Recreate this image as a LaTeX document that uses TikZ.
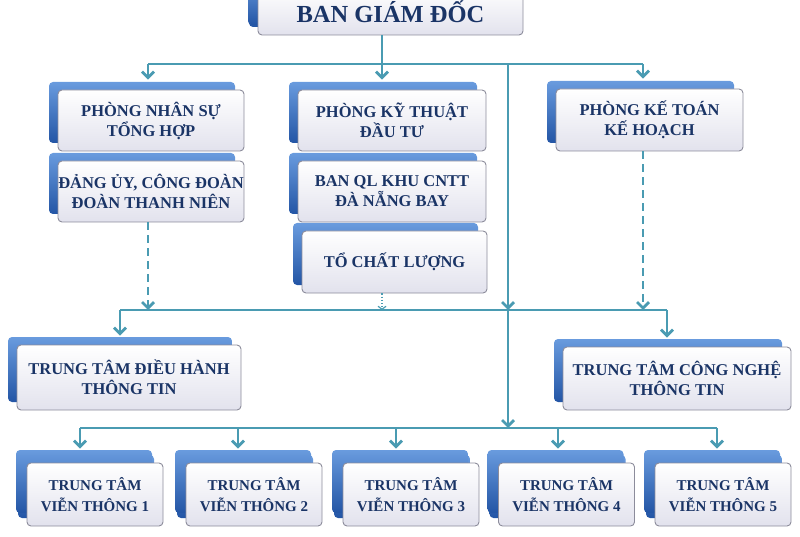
\documentclass[tikz,border=0pt]{standalone}
\usepackage{fontspec}
\setmainfont{Liberation Serif}
\usetikzlibrary{shadows,arrows.meta,calc}
\definecolor{ln}{RGB}{74,155,178}
\definecolor{txt}{RGB}{26,52,102}
\definecolor{bt}{RGB}{105,155,222}
\definecolor{bb}{RGB}{35,85,165}
\definecolor{fb}{RGB}{226,226,237}
\definecolor{bd}{RGB}{140,140,155}
\begin{document}
\begin{tikzpicture}[x=1pt,y=-1pt,
  card/.style={draw=bd, line width=0.9pt, rounded corners=4pt, top color=white, bottom color=fb,
    text=txt, align=center, inner sep=0pt, font=\bfseries\fontsize{16.5}{20}\selectfont,
    general shadow={shadow xshift=-9pt, shadow yshift=8pt, top color=bt, bottom color=bb}},
  lowcard/.style={card, font=\bfseries\fontsize{15}{21}\selectfont,
    general shadow={shadow xshift=-11pt, shadow yshift=13pt, top color=bt, bottom color=bb},
    minimum width=136pt, minimum height=63pt},
  wire/.style={draw=ln, line width=2.8pt},
  arr/.style={wire, -{Straight Barb[length=6pt,width=12pt]}},
  dasharr/.style={arr, dash pattern=on 8pt off 5pt},
  dotarr/.style={draw=ln, line width=1.2pt, dotted, -{Straight Barb[length=3pt,width=8pt]}}
]
\useasboundingbox (0,0) rectangle (800,537);

% boxes
\node[card, font=\bfseries\fontsize{24.5}{28}\selectfont, minimum width=265pt, minimum height=47pt,
  general shadow={shadow xshift=-10pt, shadow yshift=10pt, top color=bt, bottom color=bb}]
  (bgd) at (390.5,11.5) {BAN GIÁM ĐỐC};

\node[card, minimum width=186pt, minimum height=61pt] (pns) at (151,120.5) {PHÒNG NHÂN SỰ\\TỔNG HỢP};
\node[card, minimum width=186pt, minimum height=61pt] (dang) at (151,191.5) {ĐẢNG ỦY, CÔNG ĐOÀN\\ĐOÀN THANH NIÊN};

\node[card, minimum width=188pt, minimum height=61pt] (pkt) at (392,120.5) {PHÒNG KỸ THUẬT\\ĐẦU TƯ};
\node[card, minimum width=188pt, minimum height=61pt] (bql) at (392,191.5) {BAN QL KHU CNTT\\ĐÀ NẴNG BAY};
\node[card, minimum width=185pt, minimum height=62pt] (tcl) at (394.5,262) {TỔ CHẤT LƯỢNG};

\node[card, minimum width=187pt, minimum height=62pt] (ktk) at (649.5,120) {PHÒNG KẾ TOÁN\\KẾ HOẠCH};

\node[card, minimum width=224pt, minimum height=65pt] (dh) at (129,377.5) {TRUNG TÂM ĐIỀU HÀNH\\THÔNG TIN};
\node[card, minimum width=228pt, minimum height=63pt] (cn) at (677,378.5) {TRUNG TÂM CÔNG NGHỆ\\THÔNG TIN};

\node[lowcard] (vt1) at (95,494.5) {TRUNG TÂM\\VIỄN THÔNG 1};
\node[lowcard] (vt2) at (254,494.5) {TRUNG TÂM\\VIỄN THÔNG 2};
\node[lowcard] (vt3) at (411,494.5) {TRUNG TÂM\\VIỄN THÔNG 3};
\node[lowcard] (vt4) at (566.5,494.5) {TRUNG TÂM\\VIỄN THÔNG 4};
\node[lowcard] (vt5) at (723,494.5) {TRUNG TÂM\\VIỄN THÔNG 5};

% junction coordinates
\coordinate (jt) at (382,64);
\coordinate (tl) at (148,64);
\coordinate (tr) at (643,64);
\coordinate (jm) at (508,64);
\coordinate (mm) at (508,310);
\coordinate (ml) at (120,310);
\coordinate (mr) at (667,310);
\coordinate (mb) at (508,428);
\coordinate (b1) at (80,428);
\coordinate (b2) at (238,428);
\coordinate (b3) at (396,428);
\coordinate (b4) at (558,428);
\coordinate (b5) at (717,428);

% top level
\draw[wire] (bgd.south -| jt) -- (jt);
\draw[wire] (tl) -- (tr);
\draw[arr] (tl) -- ($(tl |- pns.north)+(0,-10)$);
\draw[arr] (jt) -- ($(jt |- pkt.north)+(0,-10)$);
\draw[arr] (tr) -- ($(tr |- ktk.north)+(0,-10)$);

% main trunk
\draw[arr] (jm) -- (mm);
\draw[arr] (mm) -- (mb);

% dashed feeds to middle bus
\draw[dasharr] (tl |- dang.south) -- (tl |- mm);
\draw[dasharr] (tr |- ktk.south) -- (tr |- mm);
\draw[dotarr] (jt |- tcl.south) -- (jt |- mm);

% middle bus
\draw[wire] (ml) -- (mr);
\draw[arr] (ml) -- ($(ml |- dh.north)+(0,-9)$);
\draw[arr] (mr) -- ($(mr |- cn.north)+(0,-9)$);

% bottom bus
\draw[wire] (b1) -- (b5);
\draw[arr] (b1) -- ($(b1 |- vt1.north)+(0,-14)$);
\draw[arr] (b2) -- ($(b2 |- vt2.north)+(0,-14)$);
\draw[arr] (b3) -- ($(b3 |- vt3.north)+(0,-14)$);
\draw[arr] (b4) -- ($(b4 |- vt4.north)+(0,-14)$);
\draw[arr] (b5) -- ($(b5 |- vt5.north)+(0,-14)$);
\end{tikzpicture}
\end{document}
